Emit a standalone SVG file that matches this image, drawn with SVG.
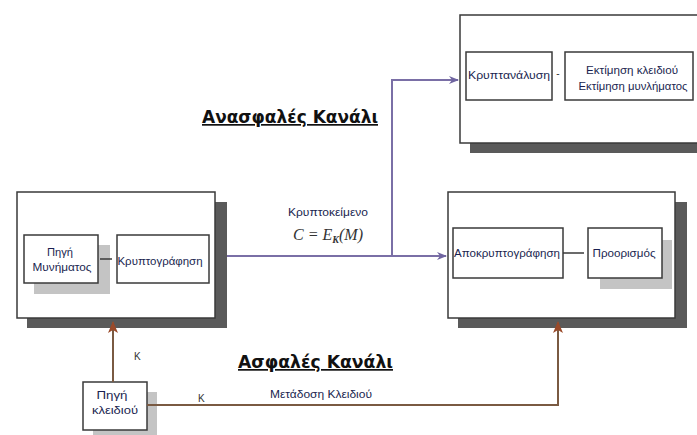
<svg xmlns="http://www.w3.org/2000/svg" width="697" height="435" viewBox="0 0 697 435">
<defs>
<style>
.outer{fill:#fff;stroke:#3a3a3a;stroke-width:1.5}
.dsh{fill:#5a5a5a}
.lsh{fill:#c4c4c4}
.inner{fill:#fff;stroke:#3a3a3a;stroke-width:1.5}
.t{font-family:"Liberation Sans",Arial,sans-serif;font-size:10.5px;fill:#1a1f50;text-anchor:middle}
.h{font-family:"DejaVu Sans","Liberation Sans",sans-serif;font-size:17px;font-weight:bold;fill:#111;text-decoration:underline}
.lbl{font-family:"Liberation Sans",Arial,sans-serif;font-size:10px;fill:#333}
.pl{fill:none;stroke:#7a6fa6;stroke-width:2}
.bl{fill:none;stroke:#7a5a42;stroke-width:2}
</style>
<marker id="ap" markerWidth="10" markerHeight="10" refX="9" refY="5" orient="auto" markerUnits="userSpaceOnUse">
<path d="M0,1 L10,5 L0,9 L3,5 Z" fill="#6f64a0"/>
</marker>
<marker id="ab" markerWidth="12" markerHeight="12" refX="11" refY="6" orient="auto" markerUnits="userSpaceOnUse">
<path d="M0,1 L12,6 L0,11 L3,6 Z" fill="#9a4a2a"/>
</marker>
</defs>
<g id="cryptanalysis">
<rect class="dsh" x="470" y="25" width="240" height="128"/>
<rect class="outer" x="460" y="15" width="250" height="128"/>
<rect class="inner" x="466" y="52" width="86" height="48"/>
<text class="t" x="509" y="79" textLength="82" lengthAdjust="spacingAndGlyphs">Κρυπτανάλυση</text>
<text class="lbl" x="558" y="77" text-anchor="middle">-</text>
<rect class="inner" x="565" y="52" width="128" height="48"/>
<text class="t" x="632" y="74" textLength="92" lengthAdjust="spacingAndGlyphs">Εκτίμηση κλειδιού</text>
<text class="t" x="633" y="90" textLength="109" lengthAdjust="spacingAndGlyphs">Εκτίμηση μυνλήματος</text>
</g>
<g id="sender">
<rect class="dsh" x="27" y="202" width="200" height="126"/>
<rect class="outer" x="17" y="192" width="198" height="126"/>
<rect class="lsh" x="34" y="245" width="76" height="49"/>
<rect class="inner" x="24" y="235" width="74" height="48"/>
<text class="t" x="60" y="256" textLength="26" lengthAdjust="spacingAndGlyphs">Πηγή</text>
<text class="t" x="62" y="271" textLength="59" lengthAdjust="spacingAndGlyphs">Μυνήματος</text>
<line x1="100" y1="259" x2="112" y2="259" stroke="#3a3a3a" stroke-width="1.5"/>
<rect class="inner" x="117" y="235" width="92" height="48"/>
<text class="t" x="160" y="265" textLength="85" lengthAdjust="spacingAndGlyphs">Κρυπτογράφηση</text>
</g>
<g id="receiver">
<rect class="dsh" x="458" y="202" width="229" height="126"/>
<rect class="outer" x="448" y="192" width="227" height="126"/>
<rect class="lsh" x="600" y="240" width="72" height="49"/>
<rect class="inner" x="453" y="228" width="110" height="50"/>
<text class="t" x="507" y="257" textLength="106" lengthAdjust="spacingAndGlyphs">Αποκρυπτογράφηση</text>
<line x1="563" y1="253" x2="584" y2="253" stroke="#3a3a3a" stroke-width="1.5"/>
<rect class="inner" x="588" y="228" width="74" height="50"/>
<text class="t" x="624" y="257" textLength="63" lengthAdjust="spacingAndGlyphs">Προορισμός</text>
</g>
<g id="keysource">
<rect class="lsh" x="93" y="392" width="64" height="48"/>
<rect class="inner" x="83" y="382" width="64" height="48"/>
<text class="t" x="112" y="399" textLength="31" lengthAdjust="spacingAndGlyphs">Πηγή</text>
<text class="t" x="115" y="414" textLength="46" lengthAdjust="spacingAndGlyphs">κλειδιού</text>
</g>
<g id="connectors">
<path class="pl" d="M227,256 L446,256" marker-end="url(#ap)"/>
<path class="pl" d="M392,256 L392,80 L458,80" marker-end="url(#ap)"/>
<path class="bl" d="M113,382 L113,322" marker-end="url(#ab)"/>
<path class="bl" d="M147,405 L558,405 L558,322" marker-end="url(#ab)"/>
</g>
<g id="labels">
<text class="h" x="202" y="123" textLength="176" lengthAdjust="spacingAndGlyphs">Ανασφαλές Κανάλι</text>
<text class="h" x="238" y="368" textLength="155" lengthAdjust="spacingAndGlyphs">Ασφαλές Κανάλι</text>
<text class="t" x="328" y="216" textLength="80" lengthAdjust="spacingAndGlyphs">Κρυπτοκείμενο</text>
<text x="328" y="240" text-anchor="middle" font-family="'Liberation Serif','Times New Roman',serif" font-size="16" font-style="italic" fill="#333">C = E<tspan font-size="10" dy="3" font-weight="bold">K</tspan><tspan dy="-3">(M)</tspan></text>
<text class="lbl" x="134" y="360">K</text>
<text class="lbl" x="198" y="402">K</text>
<text class="t" x="321" y="398" textLength="102" lengthAdjust="spacingAndGlyphs">Μετάδοση Κλειδιού</text>
</g>
</svg>
